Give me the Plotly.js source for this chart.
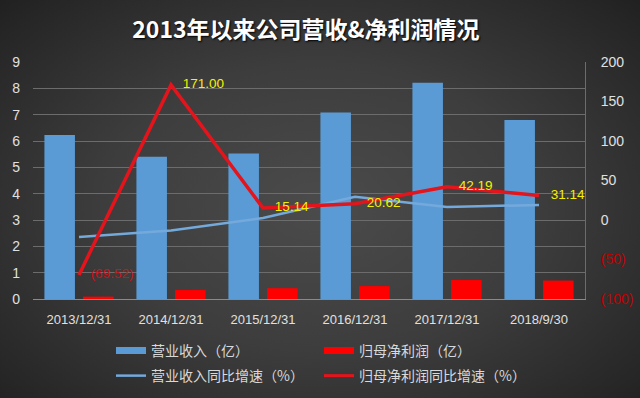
<!DOCTYPE html>
<html>
<head>
<meta charset="utf-8">
<script src="https://cdn.plot.ly/plotly-3.0.1.min.js"></script>
<style>
  html, body { margin: 0; padding: 0; }
  body {
    width: 640px; height: 398px; overflow: hidden;
    background: radial-gradient(ellipse 75% 80% at 50% 52%, #4b4b4b 0%, #3d3d3d 45%, #262626 85%, #1c1c1c 100%);
  }
  #chart { width: 640px; height: 398px; }
</style>
</head>
<body>
<div id="chart"></div>
<script>
// ---- data ----
const categories = ['2013/12/31', '2014/12/31', '2015/12/31', '2016/12/31', '2017/12/31', '2018/9/30'];
const revenue = [6.23, 5.40, 5.53, 7.08, 8.21, 6.80];          // 营业收入（亿）
const netProfit = [0.09, 0.34, 0.41, 0.49, 0.72, 0.70];        // 归母净利润（亿）
const revenueGrowth = [-21.6, -13.3, 2.5, 29.5, 16.5, 19.0];   // 营业收入同比增速（%）
const profitGrowth = [-69.52, 171.00, 15.14, 20.62, 42.19, 31.14]; // 归母净利润同比增速（%）
const seriesNames = ['营业收入（亿）', '归母净利润（亿）', '营业收入同比增速（%）', '归母净利润同比增速（%）'];
const rightTickVals = [-100, -50, 0, 50, 100, 150, 200];
const titleText = '2013年以来公司营收&净利润情况';

const FONT = '"Liberation Sans", "Noto Sans CJK SC", sans-serif';
const CJK = '"Noto Sans CJK SC", "Liberation Sans", sans-serif';
const BLUE = '#5b9bd5';
const RED = '#ff0000';
const LINE_BLUE = '#74a9dc';
const LINE_RED = '#e3141b';

function fmt(v) { return v < 0 ? '(' + Math.abs(v).toFixed(2) + ')' : v.toFixed(2); }
function fmtTick(v) {
  return v < 0 ? '<span style="color:#c00000">(' + Math.abs(v) + ')</span>' : String(v);
}

const traces = [
  { type: 'bar', x: categories, y: revenue, name: seriesNames[0], marker: { color: BLUE },
    showlegend: false, hoverinfo: 'skip' },
  { type: 'bar', x: categories, y: netProfit, name: seriesNames[1], marker: { color: RED },
    showlegend: false, hoverinfo: 'skip' },
  { type: 'scatter', mode: 'lines', x: categories, y: revenueGrowth, yaxis: 'y2',
    name: seriesNames[2], line: { color: LINE_BLUE, width: 2.5 }, showlegend: false, hoverinfo: 'skip' },
  { type: 'scatter', mode: 'lines+markers+text', x: categories, y: profitGrowth, yaxis: 'y2',
    name: seriesNames[3], line: { color: LINE_RED, width: 3.5 },
    marker: { size: 17, color: 'rgba(0,0,0,0)' },
    text: profitGrowth.map(fmt), textposition: 'middle right',
    textfont: { family: FONT, size: 13.5, color: profitGrowth.map(v => v < 0 ? '#c8141b' : '#f5f000') },
    showlegend: false, hoverinfo: 'skip' },
  // legend entries
  { type: 'scatter', mode: 'lines', x: [categories[0]], y: [null], name: seriesNames[0],
    line: { color: BLUE, width: 7 }, legend: 'legend', hoverinfo: 'skip' },
  { type: 'scatter', mode: 'lines', x: [categories[0]], y: [null], name: seriesNames[1],
    line: { color: RED, width: 7 }, legend: 'legend', hoverinfo: 'skip' },
  { type: 'scatter', mode: 'lines', x: [categories[0]], y: [null], name: seriesNames[2],
    line: { color: LINE_BLUE, width: 2.5 }, legend: 'legend2', hoverinfo: 'skip' },
  { type: 'scatter', mode: 'lines', x: [categories[0]], y: [null], name: seriesNames[3],
    line: { color: LINE_RED, width: 3 }, legend: 'legend2', hoverinfo: 'skip' }
];

const legendBase = {
  orientation: 'h', xref: 'paper', yref: 'paper', x: 0.1413, xanchor: 'left', yanchor: 'middle',
  entrywidth: 163, bgcolor: 'rgba(0,0,0,0)', borderwidth: 0,
  font: { family: CJK, size: 14, color: '#d9d9d9' }, traceorder: 'normal'
};

const layout = {
  width: 640, height: 398,
  margin: { l: 33, r: 55, t: 62, b: 99, autoexpand: false },
  paper_bgcolor: 'rgba(0,0,0,0)',
  plot_bgcolor: 'rgba(0,0,0,0)',
  title: {
    text: '<b>' + titleText + '</b>',
    font: { family: CJK, size: 23, color: '#ffffff', shadow: '1px 1px 2px #000' },
    x: 0.478, xref: 'container', xanchor: 'center',
    y: 0.925, yref: 'container', yanchor: 'middle'
  },
  barmode: 'group', bargap: 0.16, bargroupgap: 0.21,
  xaxis: {
    type: 'category', range: [-0.5, 5.5],
    showgrid: false, showline: true, linecolor: '#8a8a8a', linewidth: 1,
    ticks: '', ticklabelstandoff: 8,
    tickfont: { family: FONT, size: 13, color: '#e0e0e0' }
  },
  yaxis: {
    range: [0, 9], dtick: 1, tick0: 0,
    showgrid: true, gridcolor: '#6c6c6c', gridwidth: 1,
    zeroline: false, showline: false, ticks: '', ticklabelstandoff: 12,
    tickfont: { family: FONT, size: 14, color: '#e0e0e0' }
  },
  yaxis2: {
    overlaying: 'y', side: 'right', range: [-100, 200],
    tickmode: 'array', tickvals: rightTickVals, ticktext: rightTickVals.map(fmtTick),
    showgrid: false, zeroline: false, showline: true, linecolor: '#6c6c6c', linewidth: 1,
    ticks: '', ticklabelstandoff: 12,
    tickfont: { family: FONT, size: 14, color: '#e0e0e0' }
  },
  legend: Object.assign({}, legendBase, { y: -0.219 }),
  legend2: Object.assign({}, legendBase, { y: -0.325 }),
  showlegend: true
};

Plotly.newPlot('chart', traces, layout, { staticPlot: true, displayModeBar: false });
</script>
</body>
</html>
